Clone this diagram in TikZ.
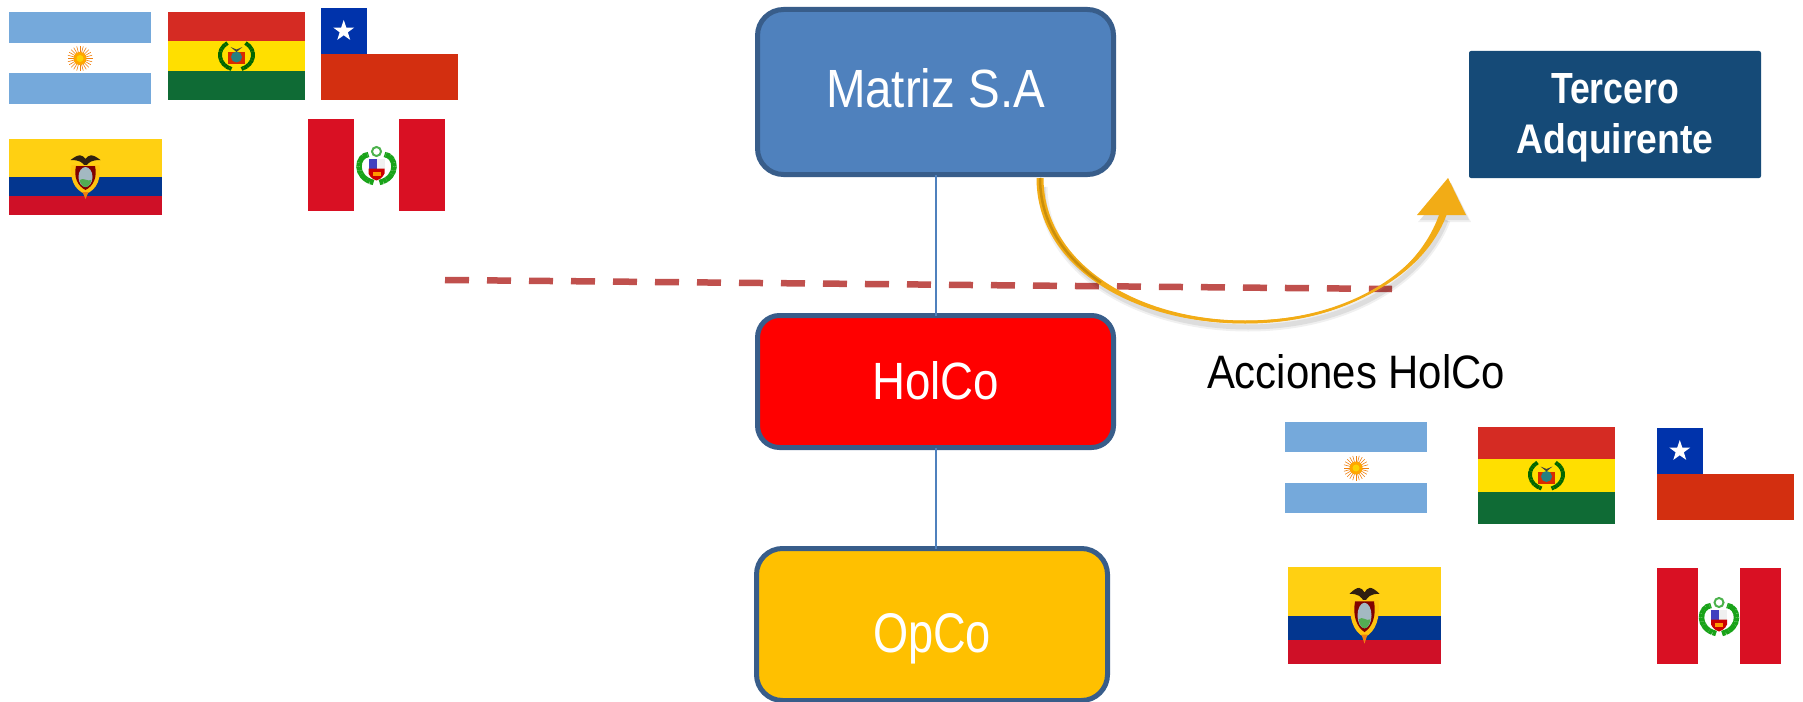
\documentclass[tikz,border=0pt]{standalone}
\usepackage{fontspec}
\usepackage{graphicx}
\setmainfont{Liberation Sans}
\definecolor{boxline}{HTML}{385D8A}
\definecolor{matrizfill}{HTML}{4F81BD}
\definecolor{opcofill}{HTML}{FFC000}
\definecolor{terfill}{HTML}{154A77}
\definecolor{arrowcol}{HTML}{F2AC16}
\definecolor{arrowdark}{HTML}{C98E0C}
\definecolor{dashcol}{HTML}{C0504D}
\definecolor{argblue}{HTML}{75A9DB}
\definecolor{bored}{HTML}{D52B23}
\definecolor{boyel}{HTML}{FFDF00}
\definecolor{bogreen}{HTML}{0F6B35}
\definecolor{chblue}{HTML}{0033AB}
\definecolor{chred}{HTML}{D32F10}
\definecolor{ecyel}{HTML}{FFD012}
\definecolor{ecblue}{HTML}{03368F}
\definecolor{ecred}{HTML}{CF1027}
\definecolor{perured}{HTML}{D91023}
\tikzset{
  orgbox/.style={draw=boxline,line width=5pt,rounded corners=26pt,outer sep=0pt,inner sep=0pt,text=white,align=center},
  linkline/.style={draw=matrizfill,line width=2pt},
}
\newcommand\ArgFlag[4]{%
  \begin{scope}[shift={(#1,#2)},xscale=#3-#1,yscale=#4-#2]
    \fill[argblue] (0,0) rectangle (1,.335);
    \fill[argblue] (0,.665) rectangle (1,1);
  \end{scope}
  \pgfmathsetmacro\cx{(#1+#3)/2}\pgfmathsetmacro\cy{(#2+#4)/2+.5}
  \begin{scope}[shift={(\cx,\cy)}]
    \foreach \a in {0,15,...,345}{\draw[orange!75!brown,line width=.6pt] (\a:5) -- (\a:12.5);}
    \fill[orange!70!yellow] (0,0) circle (6.5);
    \fill[yellow!70!orange] (0,0) circle (3.5);
  \end{scope}}
\newcommand\BolFlag[4]{%
  \begin{scope}[shift={(#1,#2)},xscale=#3-#1,yscale=#4-#2]
    \fill[bored] (0,0) rectangle (1,.332);
    \fill[boyel] (0,.332) rectangle (1,.668);
    \fill[bogreen] (0,.668) rectangle (1,1);
  \end{scope}
  \pgfmathsetmacro\cx{(#1+#3)/2}\pgfmathsetmacro\cy{(#2+#4)/2}
  \begin{scope}[shift={(\cx,\cy)}]
    \draw[green!40!black,line width=4pt,dash pattern=on 2.5pt off .4pt] (-9,-13) .. controls (-21,-6) and (-18,9) .. (-5,13);
    \draw[green!40!black,line width=4pt,dash pattern=on 2.5pt off .4pt] (9,-13) .. controls (21,-6) and (18,9) .. (5,13);
    \fill[red!60!orange!85!black] (-8.5,-4) rectangle (8.5,8);
    \fill[teal!70!gray] (0,1) circle (5.5);
    \fill[black!75] (-6,-9) -- (0,-4) -- (6,-9) -- (0,-6.5) -- cycle;
  \end{scope}}
\newcommand\ChiFlag[4]{%
  \begin{scope}[shift={(#1,#2)},xscale=#3-#1,yscale=#4-#2]
    \fill[chblue] (0,0) rectangle (.334,.5);
    \fill[chred] (0,.5) rectangle (1,1);
  \end{scope}
  \pgfmathsetmacro\cx{#1+(#3-#1)*.166}\pgfmathsetmacro\cy{#2+(#4-#2)*.25}
  \fill[white,shift={(\cx,\cy)}] (-90:11) -- (-54:4.3) -- (-18:11) -- (18:4.3) -- (54:11) -- (90:4.3) -- (126:11) -- (162:4.3) -- (198:11) -- (234:4.3) -- cycle;}
\newcommand\EcuFlag[4]{%
  \begin{scope}[shift={(#1,#2)},xscale=#3-#1,yscale=#4-#2]
    \fill[ecyel] (0,0) rectangle (1,.5);
    \fill[ecblue] (0,.5) rectangle (1,.75);
    \fill[ecred] (0,.75) rectangle (1,1);
  \end{scope}
  \pgfmathsetmacro\cx{(#1+#3)/2}\pgfmathsetmacro\cy{(#2+#4)/2}
  \begin{scope}[shift={(\cx,\cy)},yscale=(#4-#2)/76]
    \fill[black!75!brown] (-15,-17) .. controls (-6,-24) and (-3,-22) .. (0,-18) .. controls (3,-22) and (6,-24) .. (15,-17) .. controls (6,-17) and (3,-15) .. (0,-10) .. controls (-3,-15) and (-6,-17) .. (-15,-17) -- cycle;
    \fill[ecyel!85!orange] (-14,-12) .. controls (-16,0) and (-12,13) .. (0,17) .. controls (12,13) and (16,0) .. (14,-12) -- cycle;
    \fill[red!50!black] (-9.5,-11) .. controls (-12,0) and (-8,9) .. (0,13) .. controls (8,9) and (12,0) .. (9.5,-11) -- cycle;
    \fill[cyan!25!gray!70] (0,0) ellipse (7 and 10);
    \fill[green!35!gray] (-6,3) .. controls (-2,0) and (2,5) .. (6,3) .. controls (5,8) and (2,10) .. (0,10) .. controls (-2,10) and (-5,8) .. (-6,3) -- cycle;
    \fill[orange!75!brown] (-3,15) -- (0,22) -- (3,15) -- cycle;
  \end{scope}}
\newcommand\PerFlag[4]{%
  \begin{scope}[shift={(#1,#2)},xscale=#3-#1,yscale=#4-#2]
    \fill[perured] (0,0) rectangle (.333,1);
    \fill[perured] (.667,0) rectangle (1,1);
  \end{scope}
  \pgfmathsetmacro\cx{(#1+#3)/2}\pgfmathsetmacro\cy{(#2+#4)/2+.5}
  \begin{scope}[shift={(\cx,\cy)}]
    \draw[green!60!black!90,line width=5.5pt,dash pattern=on 3.5pt off .4pt] (-3,17) .. controls (-23,12) and (-20,-10) .. (-8,-11);
    \draw[green!60!black!90,line width=5.5pt,dash pattern=on 3.5pt off .4pt] (3,17) .. controls (23,12) and (20,-10) .. (8,-11);
    \draw[green!40!gray,line width=2pt] (0,-14) circle (4.5);
    \fill[blue!50!gray] (-8,-7) rectangle (0,3);
    \fill[gray!12] (0,-7) rectangle (8,3);
    \fill[red!80!black] (-8,3) -- (8,3) -- (8,8) .. controls (6,13) and (2,14) .. (0,15) .. controls (-2,14) and (-6,13) .. (-8,8) -- cycle;
    \fill[orange!80!yellow] (-4,6) rectangle (4,10);
  \end{scope}}
\begin{document}
\begin{tikzpicture}[x=1pt,y=-1pt]
\useasboundingbox (0,0) rectangle (1803,701);
\fill[white] (0,0) rectangle (1803,701);
% separation line
\coordinate (dashstart) at (445,280);
\coordinate (dashend) at (1392,289);
\draw[dashcol,line width=6.5pt,dash pattern=on 24pt off 18pt] (dashstart) -- (dashend);
% boxes
\node[orgbox,fill=matrizfill,minimum width=356pt,minimum height=165pt,text height=39pt,text depth=9pt] (matriz) at (935.5,92)
  {\resizebox{219pt}{39pt}{\fontsize{54}{54}\selectfont Matriz S.A}};
\node[orgbox,fill=red,rounded corners=22pt,minimum width=356pt,minimum height=132pt,text height=38pt,text depth=3pt] (holco) at (935.5,381.5)
  {\resizebox{127pt}{38pt}{\fontsize{54}{54}\selectfont HolCo}};
\node[orgbox,fill=opcofill,minimum width=351pt,minimum height=152pt,text height=55pt,text depth=0pt] (opco) at (932,624.5)
  {\resizebox{118pt}{39pt}{\fontsize{54}{54}\selectfont OpCo}};
\node[fill=terfill,rounded corners=2pt,minimum width=292pt,minimum height=127pt,inner sep=0pt,text=white,align=center,font=\fontsize{50}{50}\selectfont] (tercero) at (1615,114.5)
  {\rule{0pt}{37pt}\resizebox{128pt}{30pt}{\bfseries Tercero}\\\resizebox{197pt}{30pt}{\bfseries Adquirente}};
\node[text=black,inner sep=0pt,anchor=base] (acciones) at (1356,388)
  {\resizebox{298pt}{34pt}{\fontsize{46}{46}\selectfont Acciones HolCo}};
% connectors
\draw[linkline] (matriz.south) -- (holco.north);
\draw[linkline] (holco.south) -- (holco.south |- opco.north);
% transfer arrow
\coordinate (astart) at (1040,178);
\coordinate (abottom) at (1245,322);
\coordinate (abase) at (1443,215);
\coordinate (atip) at (1448,178);
\begin{scope}[shift={(3,5)},black]
  \draw[opacity=.06,line width=9pt] (1040,182) .. controls (1040,265) and (1135,322) .. (1245,322) .. controls (1345,322) and (1420,275) .. (1443,215);
  \draw[opacity=.08,line width=5pt] (1040,182) .. controls (1040,265) and (1135,322) .. (1245,322) .. controls (1345,322) and (1420,275) .. (1443,215);
  \fill[opacity=.06] (1448,178) -- (1468,217) -- (1415,217) -- cycle;
  \fill[opacity=.08] (1448,178) -- (1466,215) -- (1417,215) -- cycle;
\end{scope}
\fill[arrowcol] (1036.5,178) .. controls (1036.5,267) and (1133,323.5) .. (1245,323.5) .. controls (1347,323.5) and (1417,276) .. (1439,215) -- (1446.5,215) .. controls (1423,278) and (1345,320.5) .. (1245,320.5) .. controls (1137,320.5) and (1043.5,263) .. (1043.5,178) -- cycle;
\draw[arrowcol,line width=2.5pt] (astart) .. controls (1040,265) and (1135,322) .. (abottom) .. controls (1345,322) and (1420,275) .. (abase);
\draw[arrowdark,line width=2.5pt] (astart) .. controls (1040,221.5) and (1063.75,257.5) .. (1101,282.6);
\fill[arrowcol] (atip) -- (1466,215) -- (1417,215) -- cycle;
% flags, top left
\ArgFlag{9}{12}{151}{104}
\BolFlag{168}{12}{305}{100}
\ChiFlag{321}{8}{458}{100}
\EcuFlag{9}{139}{162}{215}
\PerFlag{308}{119}{445}{211}
% flags, bottom right
\ArgFlag{1285}{422}{1427}{513}
\BolFlag{1478}{427}{1615}{524}
\ChiFlag{1657}{428}{1794}{520}
\EcuFlag{1288}{567}{1441}{664}
\PerFlag{1657}{568}{1781}{664}
\end{tikzpicture}
\end{document}
